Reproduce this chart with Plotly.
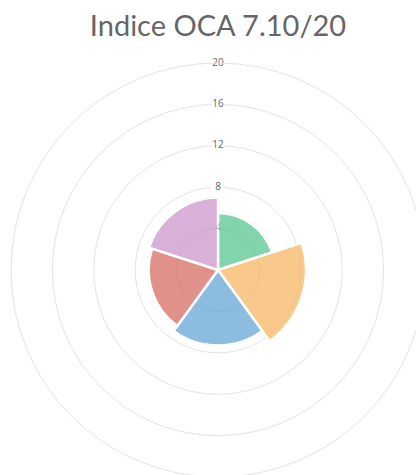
import plotly.graph_objects as go

title_text = "Indice OCA 7.10/20"
categories = ["Área 1", "Área 2", "Área 3", "Área 4", "Área 5"]
values = [5.5, 8.5, 7.3, 6.7, 7.0]
colors = ["rgba(76,194,136,0.7)", "rgba(245,178,88,0.7)", "rgba(91,161,211,0.7)",
          "rgba(211,98,89,0.7)", "rgba(201,142,199,0.7)"]
tick_vals = [4, 8, 12, 16, 20]
tick_text = ["4", "8", "12", "16", "20"]

n = len(categories)
step = 360 / n
thetas = [step * i + step / 2 for i in range(n)]

W, H = 436, 490
cx, cy, R = 218, 270, 207

fig = go.Figure()
fig.add_trace(go.Barpolar(
    r=values, theta=thetas, width=[step] * n, text=categories,
    hovertemplate="%{text}: %{r}<extra></extra>",
    marker=dict(color=colors, line=dict(color="white", width=2.5)),
    showlegend=False))
# tick labels with white backdrop, centred on the vertical axis
fig.add_trace(go.Scatterpolar(
    r=tick_vals, theta=[0] * len(tick_vals),
    mode="markers+text", text=tick_text, textposition="middle center",
    marker=dict(symbol="square", size=13,
                color=["rgba(255,255,255,0)"] + ["white"] * (len(tick_vals) - 1)),
    textfont=dict(family="Open Sans", size=10,
                  color=["rgba(102,102,102,0.45)"] + ["#666"] * (len(tick_vals) - 1)),
    hoverinfo="skip", showlegend=False))

fig.update_layout(
    width=W, height=H, autosize=False,
    margin=dict(l=0, r=0, t=0, b=0),
    paper_bgcolor="white",
    title=dict(text=title_text, x=218 / W, xanchor="center", xref="container",
               y=1 - 26 / H, yanchor="middle", yref="container",
               font=dict(family="Lato", size=29, color="#666")),
    polar=dict(
        domain=dict(x=[(cx - R) / W, (cx + R) / W], y=[(H - cy - R) / H, (H - cy + R) / H]),
        bgcolor="white",
        bargap=0,
        radialaxis=dict(range=[0, 20], tickvals=tick_vals, showticklabels=False,
                        ticks="", showline=False, gridcolor="#e3e3e3", gridwidth=1),
        angularaxis=dict(rotation=90, direction="clockwise", showticklabels=False, ticks="",
                         showgrid=False, showline=True, linecolor="#e3e3e3", linewidth=1),
    ),
)

fig.write_html("out.html", config={"displayModeBar": False},
               post_script="document.body.style.margin='0';document.body.style.overflow='hidden';")
